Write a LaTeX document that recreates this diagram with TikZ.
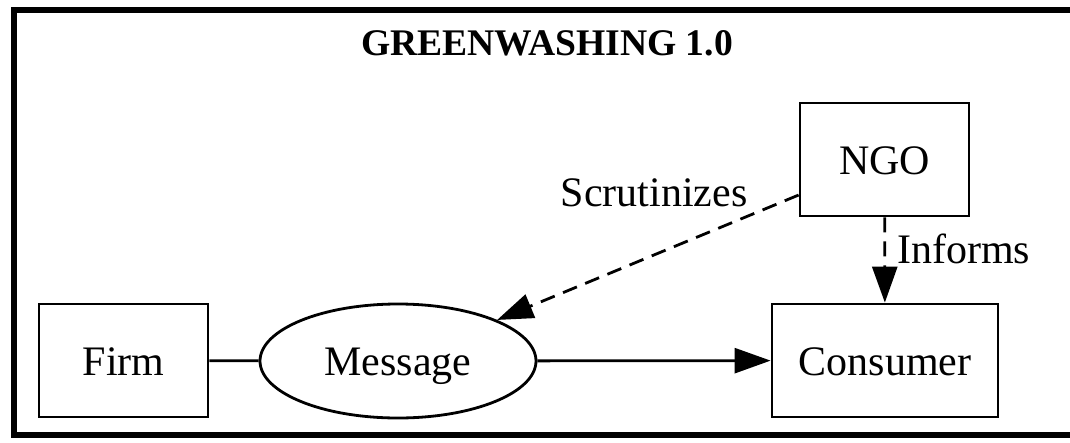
\documentclass[tikz,border=0pt]{standalone}
\usepackage{fontspec}
\setmainfont{Liberation Serif}
\usetikzlibrary{arrows.meta,shapes.geometric}
\tikzset{
  box/.style={draw, line width=2.8pt, rectangle, inner sep=0pt, text height=29pt, text depth=0pt},
  oval/.style={draw, line width=2.8pt, ellipse, inner sep=0pt, text height=29pt, text depth=0pt},
  conn/.style={line width=2.8pt},
  arr/.style={conn, -{Triangle[length=36pt,width=25pt]}},
  dashedconn/.style={dash pattern=on 15pt off 9pt},
  lbl/.style={inner sep=0pt, text height=27pt, text depth=0pt, font=\fontsize{42}{50}\selectfont},
}
\begin{document}
\begin{tikzpicture}[x=1pt,y=-1pt, every node/.append style={font=\fontsize{42}{50}\selectfont}]
\useasboundingbox (0,0) rectangle (1070,442);
% cluster frame
\draw[line width=6pt] (1090,10) -- (14,10) -- (14,435) -- (1090,435);
\node[inner sep=0pt, text height=25.5pt, text depth=0pt, font=\fontsize{37.6}{45}\selectfont\bfseries] (title) at (547,42.5) {GREENWASHING 1.0};
% nodes
\node[box, minimum width=169pt, minimum height=113pt] (firm) at (123.5,360.5) {Firm};
\node[oval, minimum width=276pt, minimum height=114pt] (message) at (398,361) {Message};
\node[box, minimum width=226pt, minimum height=113pt] (consumer) at (885,360.5) {Consumer};
\node[box, minimum width=169pt, minimum height=113pt] (ngo) at (884.5,159.5) {NGO};
% edges
\draw[conn] (firm) -- (message);
\draw[arr] (message) -- (consumer);
\draw[arr, dashedconn] (ngo) -- (message);
\draw[arr, dashedconn] (ngo) -- (consumer);
% labels
\node[lbl] (scrut) at (654,192.5) {Scrutinizes};
\node[lbl, anchor=west] (informs) at (897,250) {Informs};
\end{tikzpicture}
\end{document}
